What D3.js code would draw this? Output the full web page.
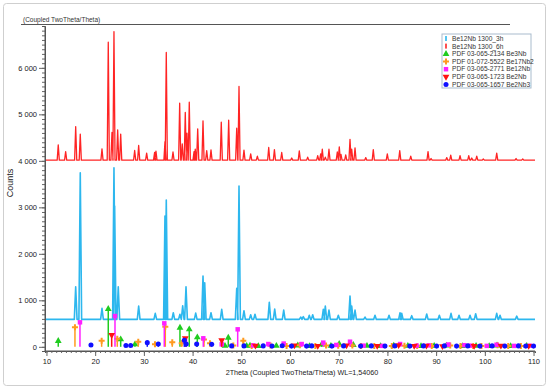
<!DOCTYPE html>
<html>
<head>
<meta charset="utf-8">
<script src="https://cdn.jsdelivr.net/npm/d3@7/dist/d3.min.js"></script>
<style>
body { margin: 0; background: #fff; }
svg { display: block; font-family: Arial, "Liberation Sans", sans-serif; }
</style>
</head>
<body>
<svg id="chart" width="550" height="391"></svg>
<script>
/** XRD scan Be12Nb, 3h and 6h with PDF reference sticks **/

// measured scans: flat background + peak list [2theta, counts]
var base3h = 590;
var base6h = 4015;

var peaks3h = [[16.0,1292],[16.94,3744],[21.4,828],[23.86,3852],[24.0,3028],[24.74,1292],[28.93,877],
    [32.34,720],[34.33,2813],[34.6,3157],[36.04,733],[37.4,700],[37.97,884],[38.65,1292],[40.64,725],
    [42.14,1523],[42.49,1378],[43.78,733],[45.98,806],[49.06,1256],[49.53,3458],[50.55,776],[51.93,690],
    [52.81,700],[55.75,957],[56.86,813],[58.71,791],[62.2,640],[62.73,650],[63.96,680],[64.66,690],
    [66.84,806],[67.25,877],[68.0,791],[69.92,680],[72.32,1092],[72.67,877],[73.35,791],[75.4,640],
    [77.45,680],[80.33,680],[82.59,733],[82.94,720],[84.99,670],[88.07,705],[90.66,680],[93.06,720],
    [94.7,680],[96.96,680],[98.12,710],[102.44,720],[103.12,680],[106.55,660]];

var peaks6h = [[12.42,4344],[13.94,4200],[16.0,4737],[16.94,4574],[21.4,4258],[22.69,6553],[23.45,4610],
    [23.86,6781],[24.62,4667],[25.24,4574],[28.11,4222],[28.93,4330],[30.57,4165],[32.2,4180],[32.48,4210],
    [34.33,4415],[34.6,6330],[35.98,4190],[37.35,5240],[37.88,4365],[38.5,5040],[38.85,4595],[39.32,5262],
    [40.3,4200],[40.55,4250],[41.05,4688],[42.14,4860],[42.9,4220],[43.78,4236],[45.89,4832],[47.41,4874],
    [49.06,4703],[49.53,5599],[50.55,4230],[51.93,4150],[53.3,4100],[55.63,4287],[56.8,4240],[58.3,4180],
    [60.35,4060],[61.91,4215],[63.63,4080],[65.69,4110],[66.3,4150],[66.63,4250],[67.25,4080],[68.0,4250],
    [69.71,4190],[70.12,4300],[70.47,4140],[71.44,4130],[72.32,4462],[72.67,4250],[73.35,4280],[75.55,4070],
    [77.1,4240],[79.98,4150],[82.53,4220],[84.79,4100],[88.34,4200],[88.96,4050],[92.18,4070],[93.0,4120],
    [94.91,4110],[96.7,4110],[97.31,4060],[98.34,4100],[99.69,4040],[102.44,4165],[106.41,4050],[107.78,4040]];

// reference patterns [2theta, stick height]
var be3Nb = [[12.42,125],[22.69,813],[25.24,160],[28.17,53],[37.41,410],[39.32,376],[40.97,204],[46.65,20],
    [47.33,196],[51.1,20],[51.79,25],[53.5,15],[57.2,20],[61.6,30],[64.0,15],[66.5,50],[68.4,20],[70.1,60],
    [73.0,40],[75.8,20],[78.6,15],[81.3,25],[84.2,20],[86.9,15],[89.6,20],[92.1,25],[95.4,15],[98.2,20],
    [100.9,15],[102.5,30],[105.3,15],[108.6,20]];
var be17Nb2 = [[15.85,419],[21.33,131],[24.54,175],[28.85,110],[32.28,53],[34.4,430],[35.83,97],[37.76,75],
    [42.34,160],[43.57,75],[48.36,30],[50.41,131],[52.13,20],[56.0,30],[59.3,20],[62.0,35],[65.2,20],
    [67.4,30],[69.9,25],[72.8,30],[74.6,15],[77.3,20],[80.9,20],[83.5,25],[86.1,15],[89.1,20],[92.9,30],
    [95.0,15],[97.6,20],[99.3,15],[102.6,35],[104.8,15],[107.4,20]];
var be12Nb = [[16.88,527],[24.07,662],[34.19,505],[38.45,120],[42.2,183],[45.98,53],[49.26,376],[52.46,30],
    [55.55,60],[58.7,70],[62.4,60],[66.84,90],[69.5,40],[72.32,110],[75.1,25],[78.9,20],[82.6,60],[86.0,25],
    [88.5,30],[92.5,50],[95.8,35],[97.0,25],[100.4,20],[102.4,45],[106.0,20],[109.2,25]];
var be2Nb = [[23.39,254],[38.5,183],[45.98,140],[52.9,25],[60.9,30],[65.7,20],[71.6,30],[77.9,20],[82.3,35],
    [85.5,20],[88.0,25],[91.3,15],[97.8,20],[103.3,25],[109.0,20]];
var be2Nb3 = [[19.14,40],[26.32,30],[27.29,30],[30.7,90],[32.96,60],[38.3,140],[38.7,60],[40.84,60],
    [43.92,53],[48.02,20],[50.55,20],[54.5,20],[56.3,15],[58.4,25],[60.3,15],[63.4,15],[64.46,20],[68.6,15],
    [71.0,20],[74.5,15],[76.7,20],[79.5,15],[81.5,20],[84.6,15],[87.4,20],[90.1,15],[91.7,20],[94.2,15],
    [96.5,20],[99.0,15],[101.5,20],[104.1,15],[106.9,20],[108.4,15],[110.0,15]];

var yTicks = [0, 1000, 2000, 3000, 4000, 5000, 6000];
var xTicks = [10, 20, 30, 40, 50, 60, 70, 80, 90, 100, 110];

var legendNames = ["Be12Nb 1300_3h", "Be12Nb 1300_6h", "PDF 03-065-2134 Be3Nb", "PDF 01-072-5522 Be17Nb2",
    "PDF 03-065-2771 Be12Nb", "PDF 03-065-1723 Be2Nb", "PDF 03-065-1657 Be2Nb3"];

var phases = [
    {data: be3Nb,   color: "#1fcc1f", symbol: d3.symbolTriangle, rot: 0},
    {data: be17Nb2, color: "#ff9a1f", symbol: d3.symbolCross,    rot: 0},
    {data: be12Nb,  color: "#ff1fff", symbol: d3.symbolSquare,   rot: 0},
    {data: be2Nb,   color: "#ff1010", symbol: d3.symbolTriangle, rot: 180},
    {data: be2Nb3,  color: "#1010ff", symbol: d3.symbolCircle,   rot: 0}
];

var svg = d3.select("#chart");

var x = d3.scaleLinear().domain([9.7, 110.3]).range([45, 535]);
var y = d3.scaleLinear().domain([-90, 6900]).range([351, 26]);

// frame + header
svg.append("rect").attr("x", 3.5).attr("y", 3.5).attr("width", 542).attr("height", 382).attr("rx", 3)
    .style("fill", "none").style("stroke", "#cfcfcf");
svg.append("text").attr("x", 23).attr("y", 21.5).text("(Coupled TwoTheta/Theta)")
    .style("font-size", "6.5px").style("fill", "#333");
svg.append("line").attr("x1", 21).attr("x2", 510).attr("y1", 24.5).attr("y2", 24.5)
    .style("stroke", "#555").style("stroke-width", 1);

// turn a peak list into a spiky scan line
function scanPoints(peaks, base, w) {
    var pts = [[x.domain()[0], base]];
    peaks.slice().sort(function(a, b) { return a[0] - b[0]; }).forEach(function(p) {
        pts.push([p[0] - w, base], [p[0], p[1]], [p[0] + w, base]);
    });
    pts.push([x.domain()[1], base]);
    return pts;
}

var line = d3.line().x(function(d) { return x(d[0]); }).y(function(d) { return y(d[1]); });

svg.append("path").datum(scanPoints(peaks3h, base3h, 0.28)).attr("d", line)
    .style("fill", "none").style("stroke", "#2db7ee").style("stroke-width", 1.6)
    .style("stroke-linejoin", "round");
svg.append("path").datum(scanPoints(peaks6h, base6h, 0.22)).attr("d", line)
    .style("fill", "none").style("stroke", "#ff2424").style("stroke-width", 1.3)
    .style("stroke-linejoin", "round");

// reference sticks
phases.forEach(function(ph) {
    var g = svg.append("g");
    g.selectAll("line").data(ph.data).enter().append("line")
        .attr("x1", function(d) { return x(d[0]); }).attr("x2", function(d) { return x(d[0]); })
        .attr("y1", y(0)).attr("y2", function(d) { return y(d[1]); })
        .style("stroke", ph.color).style("stroke-width", 1.5);
    g.selectAll("path").data(ph.data).enter().append("path")
        .attr("d", d3.symbol().type(ph.symbol).size(20))
        .attr("transform", function(d) { return "translate(" + x(d[0]) + "," + y(d[1]) + ") rotate(" + ph.rot + ")"; })
        .style("fill", ph.color);
});

// axes
var fmt = function(d) { return d3.format(",")(d).replace(",", " "); };

var yMinor = svg.append("g").attr("transform", "translate(45,0)")
    .call(d3.axisLeft(y).tickValues(d3.range(0, 6900, 100)).tickSize(3).tickFormat(""));
var yAxis = svg.append("g").attr("transform", "translate(45,0)")
    .call(d3.axisLeft(y).tickValues(yTicks).tickSize(6).tickPadding(2).tickFormat(fmt));
var xMinor = svg.append("g").attr("transform", "translate(0,351)")
    .call(d3.axisBottom(x).tickValues(d3.range(10, 111, 1)).tickSize(2).tickFormat(""));
var xAxis = svg.append("g").attr("transform", "translate(0,351)")
    .call(d3.axisBottom(x).tickValues(xTicks).tickSize(5).tickPadding(3));

[yMinor, yAxis, xMinor, xAxis].forEach(function(a) {
    a.select(".domain").style("stroke", "#555");
    a.selectAll(".tick line").style("stroke", "#666");
    a.selectAll("text").style("font-size", "7.5px").style("fill", "#222").style("font-family", "Arial, 'Liberation Sans', sans-serif");
});
yAxis.select(".domain").attr("d", "M0," + y(6900) + "V351");
xAxis.select(".domain").attr("d", "M45,0H535");

svg.append("text").attr("transform", "translate(13,183) rotate(-90)").attr("text-anchor", "middle")
    .text("Counts").style("font-size", "9px").style("fill", "#222");
svg.append("text").attr("x", 302).attr("y", 375).attr("text-anchor", "middle")
    .text("2Theta (Coupled TwoTheta/Theta) WL=1,54060").style("font-size", "7.2px").style("fill", "#222");

// legend
var legend = svg.append("g").attr("transform", "translate(442,34)");
legend.append("rect").attr("width", 89).attr("height", 54)
    .style("fill", "#fff").style("stroke", "#a9bccd").style("stroke-width", 1);
var rows = legend.selectAll("g.row").data(legendNames).enter().append("g").attr("class", "row")
    .attr("transform", function(d, i) { return "translate(0," + (4.5 + i * 7.6) + ")"; });
rows.append("text").attr("x", 10).attr("y", 2.4).text(function(d) { return d; })
    .style("font-size", "6.6px").style("fill", "#333");
rows.each(function(d, i) {
    var r = d3.select(this);
    if (i < 2) {
        r.append("rect").attr("x", 3.2).attr("y", -2.5).attr("width", 1.6).attr("height", 5)
            .style("fill", i == 0 ? "#2db7ee" : "#ff2424");
    } else {
        var ph = phases[i - 2];
        r.append("path").attr("d", d3.symbol().type(ph.symbol).size(20))
            .attr("transform", "translate(4,0.3) rotate(" + ph.rot + ")").style("fill", ph.color);
    }
});
</script>
</body>
</html>
